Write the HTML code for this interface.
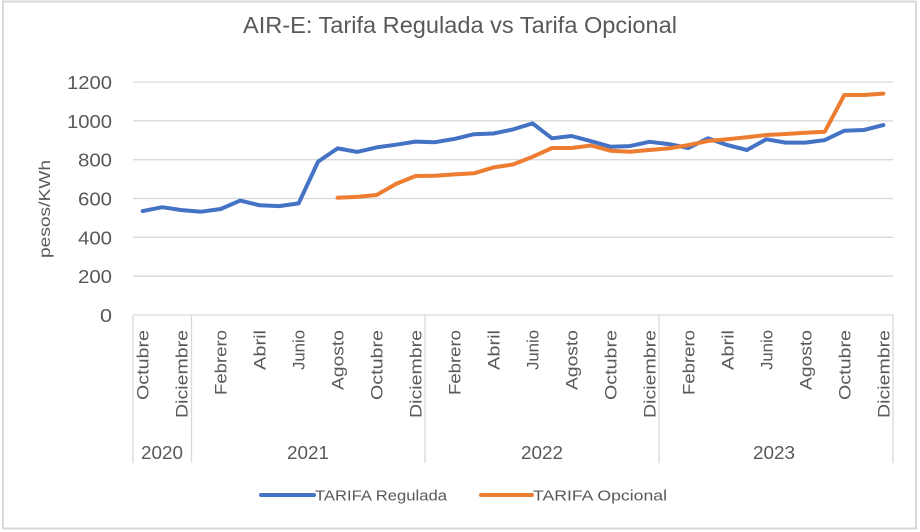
<!DOCTYPE html>
<html>
<head>
<meta charset="utf-8">
<style>
  html,body{margin:0;padding:0;background:#fff;}
  svg{display:block;}
  text{font-family:"Liberation Sans",sans-serif;fill:#595959;}
</style>
</head>
<body>
<svg width="920" height="532" viewBox="0 0 920 532" xmlns="http://www.w3.org/2000/svg">
  <rect x="0" y="0" width="920" height="532" fill="#fff"/>
  <rect x="3" y="1.5" width="913" height="527" fill="none" stroke="#d9d9d9" stroke-width="2"/>

  <!-- Title -->
  <text x="460" y="33" font-size="23" text-anchor="middle" textLength="434" lengthAdjust="spacingAndGlyphs">AIR-E: Tarifa Regulada vs Tarifa Opcional</text>

  <!-- Gridlines -->
  <g stroke="#d9d9d9" stroke-width="1.3">
    <line x1="133" y1="82" x2="893" y2="82"/>
    <line x1="133" y1="120.8" x2="893" y2="120.8"/>
    <line x1="133" y1="159.7" x2="893" y2="159.7"/>
    <line x1="133" y1="198.5" x2="893" y2="198.5"/>
    <line x1="133" y1="237.3" x2="893" y2="237.3"/>
    <line x1="133" y1="276.2" x2="893" y2="276.2"/>
    <line x1="133" y1="315" x2="893" y2="315"/>
    <!-- category box separators -->
    <line x1="133" y1="315" x2="133" y2="463"/>
    <line x1="191.5" y1="315" x2="191.5" y2="463"/>
    <line x1="425" y1="315" x2="425" y2="463"/>
    <line x1="659" y1="315" x2="659" y2="463"/>
    <line x1="893" y1="315" x2="893" y2="463"/>
  </g>

  <!-- Y axis labels -->
  <g font-size="18" text-anchor="end">
    <text x="112" y="89" textLength="45" lengthAdjust="spacingAndGlyphs">1200</text>
    <text x="112" y="127.8" textLength="45" lengthAdjust="spacingAndGlyphs">1000</text>
    <text x="112" y="166.7" textLength="34" lengthAdjust="spacingAndGlyphs">800</text>
    <text x="112" y="205.5" textLength="34" lengthAdjust="spacingAndGlyphs">600</text>
    <text x="112" y="244.3" textLength="34" lengthAdjust="spacingAndGlyphs">400</text>
    <text x="112" y="283.2" textLength="34" lengthAdjust="spacingAndGlyphs">200</text>
    <text x="112" y="322" textLength="12" lengthAdjust="spacingAndGlyphs">0</text>
  </g>

  <!-- Y axis title -->
  <text transform="translate(50,209) rotate(-90)" font-size="16" text-anchor="middle" textLength="98" lengthAdjust="spacingAndGlyphs">pesos/KWh</text>

  <!-- Category labels -->
  <g font-size="17" text-anchor="end">
    <text transform="translate(148.7,330) rotate(-90)" textLength="70" lengthAdjust="spacingAndGlyphs">Octubre</text>
    <text transform="translate(187.7,330) rotate(-90)" textLength="88" lengthAdjust="spacingAndGlyphs">Diciembre</text>
    <text transform="translate(226.7,330) rotate(-90)" textLength="65" lengthAdjust="spacingAndGlyphs">Febrero</text>
    <text transform="translate(265.7,330) rotate(-90)" textLength="40" lengthAdjust="spacingAndGlyphs">Abril</text>
    <text transform="translate(304.6,330) rotate(-90)" textLength="40" lengthAdjust="spacingAndGlyphs">Junio</text>
    <text transform="translate(343.6,330) rotate(-90)" textLength="60" lengthAdjust="spacingAndGlyphs">Agosto</text>
    <text transform="translate(382.6,330) rotate(-90)" textLength="70" lengthAdjust="spacingAndGlyphs">Octubre</text>
    <text transform="translate(421.6,330) rotate(-90)" textLength="88" lengthAdjust="spacingAndGlyphs">Diciembre</text>
    <text transform="translate(460.5,330) rotate(-90)" textLength="65" lengthAdjust="spacingAndGlyphs">Febrero</text>
    <text transform="translate(499.5,330) rotate(-90)" textLength="40" lengthAdjust="spacingAndGlyphs">Abril</text>
    <text transform="translate(538.5,330) rotate(-90)" textLength="40" lengthAdjust="spacingAndGlyphs">Junio</text>
    <text transform="translate(577.5,330) rotate(-90)" textLength="60" lengthAdjust="spacingAndGlyphs">Agosto</text>
    <text transform="translate(616.4,330) rotate(-90)" textLength="70" lengthAdjust="spacingAndGlyphs">Octubre</text>
    <text transform="translate(655.4,330) rotate(-90)" textLength="88" lengthAdjust="spacingAndGlyphs">Diciembre</text>
    <text transform="translate(694.4,330) rotate(-90)" textLength="65" lengthAdjust="spacingAndGlyphs">Febrero</text>
    <text transform="translate(733.4,330) rotate(-90)" textLength="40" lengthAdjust="spacingAndGlyphs">Abril</text>
    <text transform="translate(772.3,330) rotate(-90)" textLength="40" lengthAdjust="spacingAndGlyphs">Junio</text>
    <text transform="translate(811.3,330) rotate(-90)" textLength="60" lengthAdjust="spacingAndGlyphs">Agosto</text>
    <text transform="translate(850.3,330) rotate(-90)" textLength="70" lengthAdjust="spacingAndGlyphs">Octubre</text>
    <text transform="translate(889.3,330) rotate(-90)" textLength="88" lengthAdjust="spacingAndGlyphs">Diciembre</text>
  </g>

  <!-- Year labels -->
  <g font-size="18" text-anchor="middle">
    <text x="162" y="459" textLength="42" lengthAdjust="spacingAndGlyphs">2020</text>
    <text x="308" y="459" textLength="42" lengthAdjust="spacingAndGlyphs">2021</text>
    <text x="542" y="459" textLength="42" lengthAdjust="spacingAndGlyphs">2022</text>
    <text x="774" y="459" textLength="42" lengthAdjust="spacingAndGlyphs">2023</text>
  </g>

  <!-- Series: TARIFA Regulada -->
  <polyline fill="none" stroke="#4472c4" stroke-width="4" stroke-linejoin="round" stroke-linecap="round"
    points="142.7,211.1 162.2,207.2 181.7,210.1 201.2,211.7 220.7,209.0 240.2,200.6 259.7,205.3 279.2,206.1 298.6,203.4 318.1,161.6 337.6,148.4 357.1,151.9 376.6,147.4 396.1,144.7 415.6,141.6 435.0,142.2 454.5,138.9 474.0,134.2 493.5,133.5 513.0,129.4 532.5,123.4 552.0,138.3 571.5,136.0 591.0,141.2 610.4,146.7 629.9,146.1 649.4,141.8 668.9,144.1 688.4,148.0 707.9,138.3 727.4,145.1 746.9,150.0 766.3,139.3 785.8,142.6 805.3,142.6 824.8,140.1 844.3,130.7 863.8,130.0 883.3,125.1"/>

  <!-- Series: TARIFA Opcional -->
  <polyline fill="none" stroke="#ed7d31" stroke-width="4" stroke-linejoin="round" stroke-linecap="round"
    points="337.6,197.7 357.1,196.9 376.6,195.0 396.1,183.9 415.6,176.0 435.0,175.8 454.5,174.4 474.0,173.3 493.5,167.4 513.0,164.5 532.5,156.8 552.0,148.0 571.5,148.0 591.0,145.5 610.4,150.7 629.9,151.7 649.4,150.0 668.9,148.4 688.4,145.1 707.9,141.0 727.4,139.3 746.9,137.3 766.3,135.0 785.8,134.0 805.3,132.7 824.8,131.7 844.3,95.0 863.8,95.0 883.3,93.6"/>

  <!-- Legend -->
  <line x1="261" y1="495" x2="314" y2="495" stroke="#4472c4" stroke-width="4" stroke-linecap="round"/>
  <text x="315" y="500.5" font-size="15" textLength="132" lengthAdjust="spacingAndGlyphs">TARIFA Regulada</text>
  <line x1="481" y1="495" x2="532" y2="495" stroke="#ed7d31" stroke-width="4" stroke-linecap="round"/>
  <text x="533" y="500.5" font-size="15" textLength="134" lengthAdjust="spacingAndGlyphs">TARIFA Opcional</text>
</svg>
</body>
</html>
